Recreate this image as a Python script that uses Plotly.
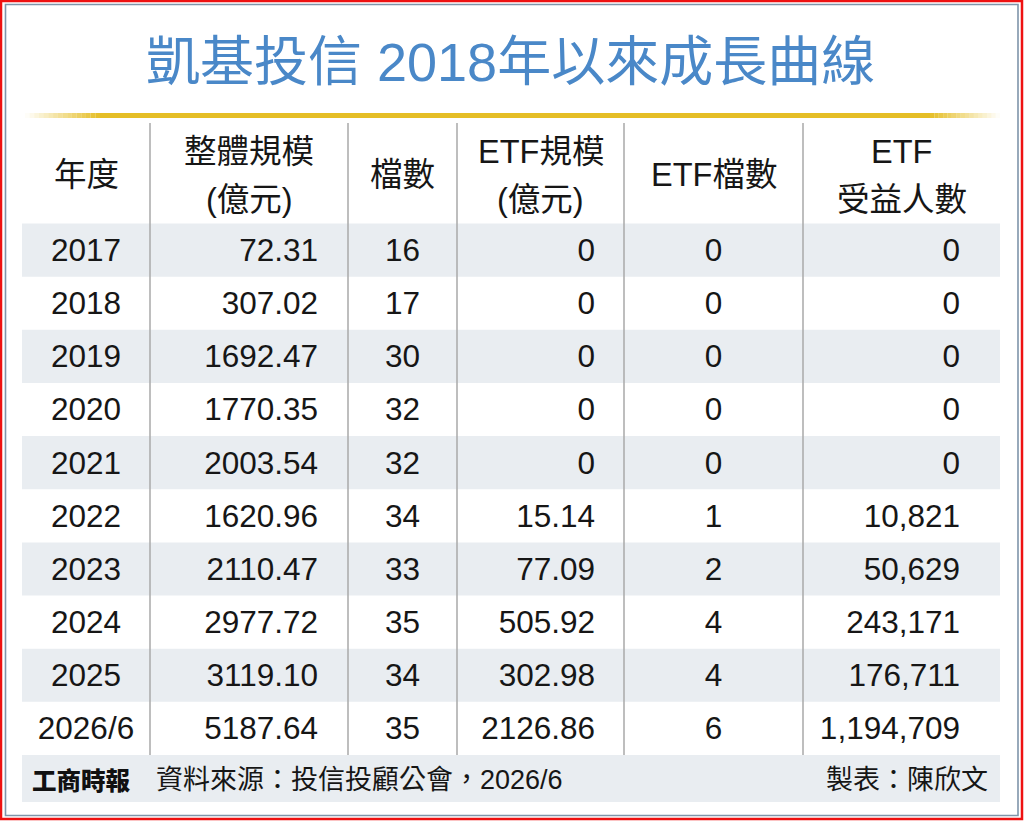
import plotly.graph_objects as go

# ---- data ----
years = ["2017", "2018", "2019", "2020", "2021", "2022", "2023", "2024", "2025", "2026/6"]
total_aum = [72.31, 307.02, 1692.47, 1770.35, 2003.54, 1620.96, 2110.47, 2977.72, 3119.10, 5187.64]
fund_count = [16, 17, 30, 32, 32, 34, 33, 35, 34, 35]
etf_aum = [0, 0, 0, 0, 0, 15.14, 77.09, 505.92, 302.98, 2126.86]
etf_count = [0, 0, 0, 0, 0, 1, 2, 4, 4, 6]
etf_holders = [0, 0, 0, 0, 0, 10821, 50629, 243171, 176711, 1194709]

headers = [["年度"], ["整體規模", "(億元)"], ["檔數"], ["ETF規模", "(億元)"], ["ETF檔數"], ["ETF", "受益人數"]]
title = "凱基投信 2018年以來成長曲線"
source = "資料來源：投信投顧公會，2026/6"
author = "製表：陳欣文"
logo = "工商時報"

# ---- layout constants (pixels) ----
W, H = 1024, 821
col_edges = [22, 150, 348, 457, 624, 803, 1000]
row_top = 223.5
row_h = 53.15
text_dy = 3  # plotly's "middle" sits a bit high for these fonts
FONT = "Liberation Sans, Arial, Noto Sans CJK TC, sans-serif"
TXT = "#161616"
SHADE = "#e9edf1"
SEP = "#a9a9a9"


def fmt_amount(v):
    return "0" if v == 0 else f"{v:.2f}"


columns = [
    ([str(y) for y in years], "center", 0),
    ([fmt_amount(v) for v in total_aum], "right", 30),
    ([str(v) for v in fund_count], "center", 0),
    ([fmt_amount(v) for v in etf_aum], "right", 29),
    ([str(v) for v in etf_count], "center", 0),
    ([f"{v:,}" for v in etf_holders], "right", 40),
]

row_y = [row_top + (i + 0.5) * row_h + text_dy for i in range(len(years))]
table_bottom = row_top + len(years) * row_h

fig = go.Figure()
shapes = []

# outer red border and inner frame
shapes.append(dict(type="rect", x0=1, x1=W - 2, y0=1, y1=H - 2, line=dict(color="#ee1111", width=2.5)))
shapes.append(dict(type="rect", x0=5.5, x1=1018, y0=4.5, y1=815.5, line=dict(color="#7f95aa", width=1.6)))

# gold rule under the title, fading at both ends
gold = (229, 190, 38)
fade_l, fade_r = (25, 100), (930, 1000)
shapes.append(dict(type="line", x0=fade_l[1], x1=fade_r[0], y0=115.5, y1=115.5,
                   line=dict(color="rgb(%d,%d,%d)" % gold, width=5)))
n = 16
for k in range(n):
    a = (k + 0.5) / n
    xa = fade_l[0] + (fade_l[1] - fade_l[0]) * k / n
    xb = fade_l[0] + (fade_l[1] - fade_l[0]) * (k + 1) / n
    shapes.append(dict(type="line", x0=xa, x1=xb, y0=115.5, y1=115.5,
                       line=dict(color="rgba(%d,%d,%d,%.3f)" % (*gold, a), width=5)))
    xa = fade_r[0] + (fade_r[1] - fade_r[0]) * k / n
    xb = fade_r[0] + (fade_r[1] - fade_r[0]) * (k + 1) / n
    shapes.append(dict(type="line", x0=xa, x1=xb, y0=115.5, y1=115.5,
                       line=dict(color="rgba(%d,%d,%d,%.3f)" % (*gold, 1 - a), width=5)))

# alternating row shading
for i in range(0, len(years), 2):
    shapes.append(dict(type="rect", x0=col_edges[0], x1=col_edges[-1],
                       y0=row_top + i * row_h, y1=row_top + (i + 1) * row_h,
                       fillcolor=SHADE, line=dict(width=0), layer="below"))

# footer band
shapes.append(dict(type="rect", x0=col_edges[0], x1=col_edges[-1], y0=table_bottom, y1=802,
                   fillcolor=SHADE, line=dict(width=0), layer="below"))

# column separators
for x in col_edges[1:-1]:
    shapes.append(dict(type="line", x0=x, x1=x, y0=123, y1=table_bottom,
                       line=dict(color=SEP, width=1.5)))

# body cells
for c, (vals, align, pad) in enumerate(columns):
    left, right = col_edges[c], col_edges[c + 1]
    if align == "center":
        x, pos = (left + right) / 2, "middle center"
    else:
        x, pos = right - pad, "middle left"
    fig.add_trace(go.Scatter(
        x=[x] * len(vals), y=row_y, mode="text", text=vals, textposition=pos,
        textfont=dict(family=FONT, size=31.5, color=TXT), hoverinfo="skip", showlegend=False))

annotations = []
# headers
for c, lines in enumerate(headers):
    xc = (col_edges[c] + col_edges[c + 1]) / 2
    ys = [175] if len(lines) == 1 else [152, 200]
    for t, y in zip(lines, ys):
        annotations.append(dict(x=xc, y=y, text=t, showarrow=False, xanchor="center", yanchor="middle",
                                font=dict(family=FONT, size=32.5, color=TXT)))

# title
annotations.append(dict(x=510, y=62, text=title, showarrow=False, xanchor="center", yanchor="middle",
                        font=dict(family=FONT, size=54, color="#4a88c8")))

# footer
fy = (table_bottom + 802) / 2 + 1
annotations.append(dict(x=30, y=fy, text=logo, showarrow=False, xanchor="left", yanchor="middle",
                        font=dict(family="Noto Sans CJK TC", size=24.5, color="#111111", weight=900)))
annotations.append(dict(x=154, y=fy, text=source, showarrow=False, xanchor="left", yanchor="middle",
                        font=dict(family=FONT, size=27, color=TXT)))
annotations.append(dict(x=990, y=fy, text=author, showarrow=False, xanchor="right", yanchor="middle",
                        font=dict(family=FONT, size=27, color=TXT)))

fig.update_layout(
    width=W, height=H,
    margin=dict(l=0, r=0, t=0, b=0),
    paper_bgcolor="white", plot_bgcolor="white",
    xaxis=dict(range=[0, W], visible=False, fixedrange=True),
    yaxis=dict(range=[H, 0], visible=False, fixedrange=True),
    shapes=shapes, annotations=annotations,
    showlegend=False,
)

# drop the default 8px page margin so the figure fills the window exactly
fig.write_html("out.html", config={"displayModeBar": False},
               post_script="document.body.style.margin='0';")
